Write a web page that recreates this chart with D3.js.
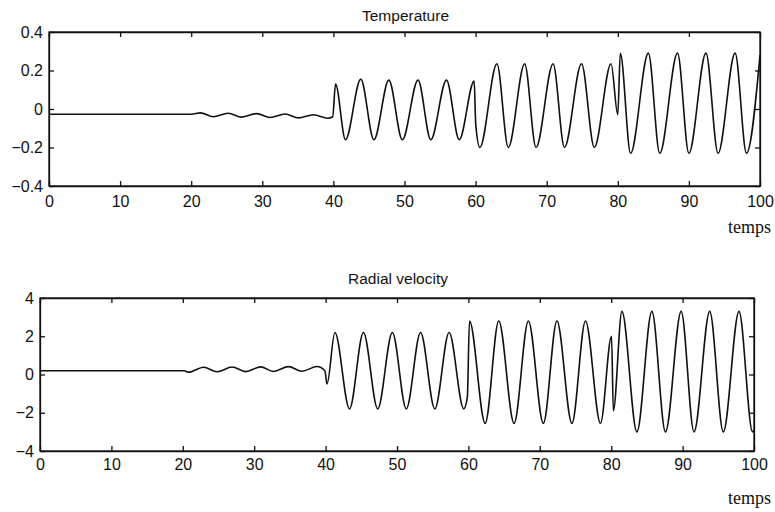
<!DOCTYPE html>
<html>
<head>
<meta charset="utf-8">
<script src="https://cdn.jsdelivr.net/npm/d3@7"></script>
<style>
  body { margin: 0; background: #fff; }
  svg { display: block; font-family: "Liberation Sans", Arial, Helvetica, sans-serif; }
  .axis text { font-size: 16px; fill: #111; }
  .axis path, .axis line { stroke: #111; stroke-width: 1.3; }
  .frame { fill: none; stroke: #111; stroke-width: 1.3; }
  .signal { fill: none; stroke: #111; stroke-width: 1.6; stroke-linejoin: round; }
  .title { font-size: 15.5px; fill: #111; }
  .xlabel { font-family: "Liberation Serif", "Times New Roman", serif; font-size: 18px; fill: #111; }
</style>
</head>
<body>
<div class="chart"></div>
<script>
// tick labels
const xTicks = [0, 10, 20, 30, 40, 50, 60, 70, 80, 90, 100];
const tempTicks = [-0.4, -0.2, 0, 0.2, 0.4];
const velTicks = [-4, -2, 0, 2, 4];

// [temps, value]: turning points + the sharp jumps
const temperature = [
  [0, -0.027], [20, -0.027],
  [21.3, -0.02], [23.1, -0.04], [25.2, -0.022], [27.1, -0.042], [29.2, -0.024],
  [31.1, -0.044], [33.2, -0.026], [35.1, -0.046], [37.2, -0.03], [39.2, -0.048],
  [39.9, -0.04], [40.3, 0.13], [41.7, -0.16], [43.85, 0.155], [45.7, -0.16],
  [47.8, 0.15], [49.7, -0.16], [51.9, 0.15], [53.7, -0.16], [55.9, 0.15],
  [57.7, -0.16], [59.8, 0.145], [60.02, -0.08], [60.6, -0.2], [63.0, 0.235],
  [64.6, -0.2], [66.9, 0.235], [68.5, -0.2], [70.9, 0.235], [72.5, -0.2],
  [74.9, 0.235], [76.7, -0.2], [79.05, 0.235], [80.0, -0.03], [80.35, 0.29],
  [81.8, -0.23], [84.3, 0.29], [85.9, -0.23], [88.4, 0.29], [90.0, -0.23],
  [92.4, 0.29], [94.1, -0.23], [96.5, 0.29], [98.1, -0.23], [100, 0.28]
];

const velocity = [
  [0, 0.2], [20.2, 0.2],
  [20.8, 0.12], [22.9, 0.38], [24.8, 0.14], [26.9, 0.39], [28.8, 0.15],
  [30.9, 0.4], [32.7, 0.16], [34.8, 0.41], [36.7, 0.17], [38.8, 0.42],
  [39.9, 0.2], [40.2, -0.5], [41.3, 2.2], [43.35, -1.8], [45.3, 2.2],
  [47.3, -1.8], [49.35, 2.2], [51.3, -1.8], [53.3, 2.2], [55.3, -1.8],
  [57.3, 2.2], [59.35, -1.8], [59.85, -1.2], [60.15, 2.8], [62.35, -2.55],
  [64.25, 2.8], [66.4, -2.55], [68.4, 2.8], [70.5, -2.55], [72.4, 2.8],
  [74.5, -2.55], [76.4, 2.8], [78.5, -2.55], [80.05, 2.0], [80.3, -1.9],
  [81.5, 3.3], [83.6, -3.0], [85.7, 3.3], [87.6, -3.0], [89.8, 3.3],
  [91.6, -3.0], [93.8, 3.3], [95.7, -3.0], [97.9, 3.3], [99.8, -3.0], [100, -2.9]
];

var svg = d3.select(".chart").append("svg")
    .attr("width", 775)
    .attr("height", 512);

function panel(box, data, yTicks, title) {
    const x = d3.scaleLinear().domain([0, 100]).range([box.left, box.right]);
    const y = d3.scaleLinear().domain(d3.extent(yTicks)).range([box.bottom, box.top]);
    const fmt = d3.format("");

    const g = svg.append("g");

    // MATLAB style: ticks point inwards on all four sides
    g.append("g")
        .attr("class", "axis x-axis")
        .attr("transform", `translate(0, ${box.bottom})`)
        .call(d3.axisBottom(x).tickValues(xTicks).tickFormat(fmt)
            .tickSizeInner(-5).tickSizeOuter(0).tickPadding(box.xPad));

    g.append("g")
        .attr("class", "axis")
        .attr("transform", `translate(0, ${box.top})`)
        .call(d3.axisTop(x).tickValues(xTicks).tickFormat("")
            .tickSizeInner(-5).tickSizeOuter(0));

    g.append("g")
        .attr("class", "axis y-axis")
        .attr("transform", `translate(${box.left}, 0)`)
        .call(d3.axisLeft(y).tickValues(yTicks).tickFormat(fmt)
            .tickSizeInner(-5).tickSizeOuter(0).tickPadding(6));

    g.append("g")
        .attr("class", "axis")
        .attr("transform", `translate(${box.right}, 0)`)
        .call(d3.axisRight(y).tickValues(yTicks).tickFormat("")
            .tickSizeInner(-5).tickSizeOuter(0));

    g.append("rect")
        .attr("class", "frame")
        .attr("x", box.left)
        .attr("y", box.top)
        .attr("width", box.right - box.left)
        .attr("height", box.bottom - box.top);

    var line = d3.line()
        .x(d => x(d[0]))
        .y(d => y(d[1]))
        .curve(d3.curveMonotoneX);

    g.append("path")
        .datum(data)
        .attr("class", "signal")
        .attr("d", line);

    g.append("text")
        .attr("class", "title")
        .attr("x", (box.left + box.right) / 2 + 1)
        .attr("y", box.titleY)
        .attr("text-anchor", "middle")
        .text(title);

    g.append("text")
        .attr("class", "xlabel")
        .attr("x", 771)
        .attr("y", box.labelY)
        .attr("text-anchor", "end")
        .text("temps");
}

panel({left: 49, right: 760, top: 32, bottom: 186, xPad: 10, titleY: 21, labelY: 233},
    temperature, tempTicks, "Temperature");
panel({left: 40, right: 754, top: 298, bottom: 451, xPad: 8, titleY: 284, labelY: 504},
    velocity, velTicks, "Radial velocity");
</script>
</body>
</html>
